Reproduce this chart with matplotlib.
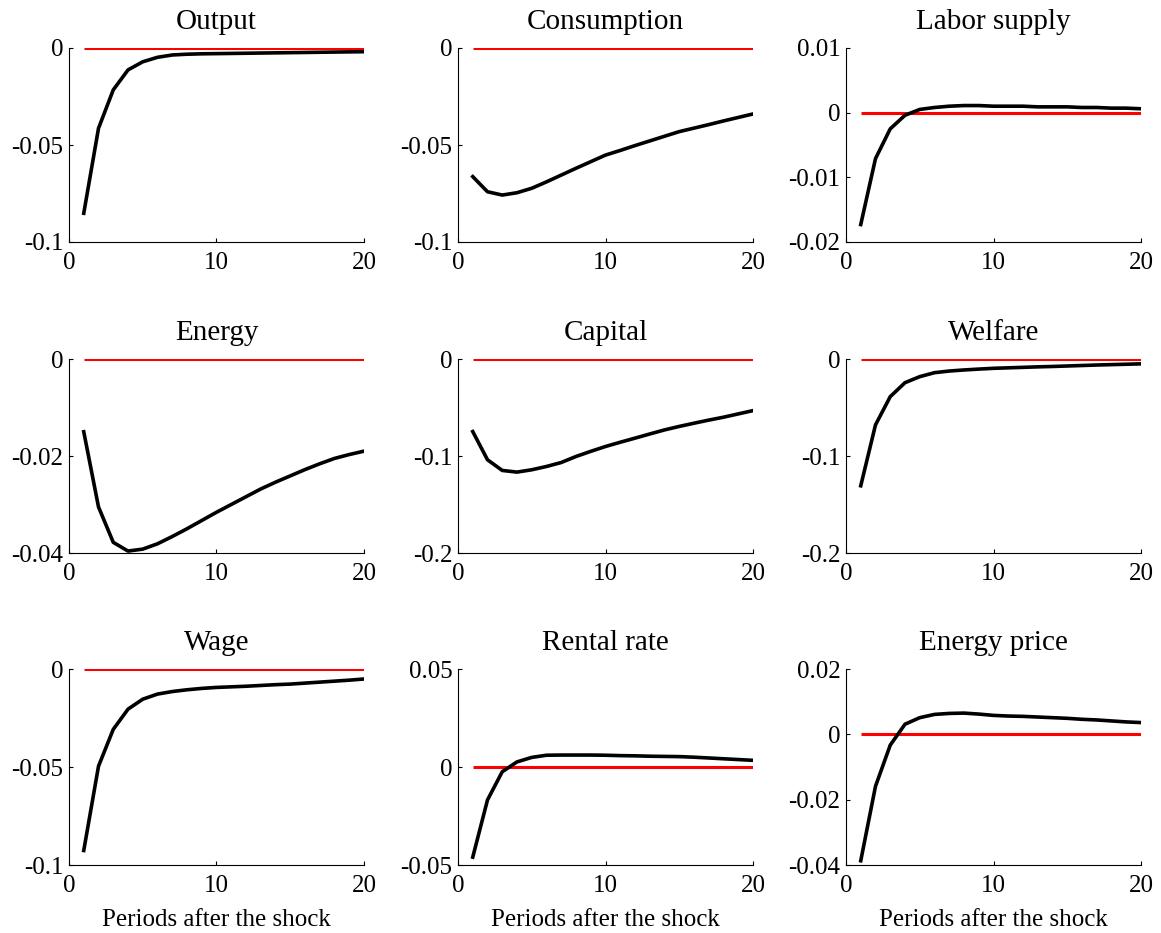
import matplotlib
matplotlib.use("Agg")
import matplotlib.pyplot as plt
import numpy as np

plt.rcParams['font.family'] = ['Liberation Serif', 'DejaVu Serif']
plt.rcParams['axes.unicode_minus'] = False

periods = list(range(1, 21))

titles = ["Output", "Consumption", "Labor supply",
          "Energy", "Capital", "Welfare",
          "Wage", "Rental rate", "Energy price"]

output = [-0.0852, -0.0414, -0.0216, -0.0113, -0.0071, -0.0048, -0.0036, -0.0032, -0.0030, -0.0029,
          -0.0028, -0.0027, -0.0026, -0.0025, -0.0024, -0.0023, -0.0022, -0.0021, -0.0020, -0.0019]
consumption = [-0.0663, -0.0741, -0.0758, -0.0746, -0.0723, -0.0690, -0.0655, -0.0620, -0.0586, -0.0552,
               -0.0528, -0.0503, -0.0479, -0.0455, -0.0431, -0.0413, -0.0395, -0.0376, -0.0358, -0.0340]
labor = [-0.0173, -0.0071, -0.0025, -0.0004, 0.0005, 0.0008, 0.0010, 0.0011, 0.0011, 0.0010,
         0.0010, 0.0010, 0.0009, 0.0009, 0.0009, 0.0008, 0.0008, 0.0007, 0.0007, 0.0006]
energy = [-0.0150, -0.0305, -0.0378, -0.0396, -0.0392, -0.0381, -0.0366, -0.0350, -0.0333, -0.0316,
          -0.0300, -0.0284, -0.0268, -0.0254, -0.0241, -0.0228, -0.0216, -0.0205, -0.0197, -0.0190]
capital = [-0.0748, -0.1039, -0.1149, -0.1166, -0.1142, -0.1108, -0.1067, -0.1005, -0.0952, -0.0902,
           -0.0858, -0.0816, -0.0773, -0.0731, -0.0695, -0.0662, -0.0630, -0.0600, -0.0566, -0.0532]
welfare = [-0.1307, -0.0679, -0.0388, -0.0244, -0.0182, -0.0141, -0.0124, -0.0113, -0.0104, -0.0096,
           -0.0091, -0.0086, -0.0081, -0.0077, -0.0072, -0.0067, -0.0062, -0.0058, -0.0054, -0.0050]
wage = [-0.0926, -0.0496, -0.0308, -0.0205, -0.0154, -0.0128, -0.0115, -0.0106, -0.0099, -0.0094,
        -0.0091, -0.0088, -0.0084, -0.0080, -0.0077, -0.0072, -0.0067, -0.0062, -0.0057, -0.0051]
rental = [-0.0460, -0.0168, -0.0024, 0.0026, 0.0049, 0.0060, 0.0061, 0.0061, 0.0061, 0.0060,
          0.0058, 0.0057, 0.0055, 0.0054, 0.0053, 0.0050, 0.0046, 0.0042, 0.0038, 0.0034]
energy_price = [-0.0387, -0.0159, -0.0033, 0.0031, 0.0051, 0.0061, 0.0064, 0.0065, 0.0062, 0.0058,
                0.0056, 0.0055, 0.0053, 0.0051, 0.0049, 0.0046, 0.0044, 0.0041, 0.0038, 0.0036]

series = [output, consumption, labor, energy, capital, welfare, wage, rental, energy_price]

ylims = [(-0.1, 0), (-0.1, 0), (-0.02, 0.01),
         (-0.04, 0), (-0.2, 0), (-0.2, 0),
         (-0.1, 0), (-0.05, 0.05), (-0.04, 0.02)]
yticks = [[-0.1, -0.05, 0], [-0.1, -0.05, 0], [-0.02, -0.01, 0, 0.01],
          [-0.04, -0.02, 0], [-0.2, -0.1, 0], [-0.2, -0.1, 0],
          [-0.1, -0.05, 0], [-0.05, 0, 0.05], [-0.04, -0.02, 0, 0.02]]
yticklabels = [["-0.1", "-0.05", "0"], ["-0.1", "-0.05", "0"], ["-0.02", "-0.01", "0", "0.01"],
               ["-0.04", "-0.02", "0"], ["-0.2", "-0.1", "0"], ["-0.2", "-0.1", "0"],
               ["-0.1", "-0.05", "0"], ["-0.05", "0", "0.05"], ["-0.04", "-0.02", "0", "0.02"]]
xticks = [0, 10, 20]
xlabel = "Periods after the shock"

W, H = 1161, 933
fig = plt.figure(figsize=(W / 100, H / 100), dpi=100)

col_left = [69, 458, 846]
col_width = 295
row_top = [48, 359, 669]
row_height = [194, 194, 196]

for i in range(9):
    r, c = divmod(i, 3)
    left = col_left[c] / W
    bottom = 1 - (row_top[r] + row_height[r]) / H
    ax = fig.add_axes([left, bottom, col_width / W, row_height[r] / H])
    ax.plot(periods, np.zeros(len(periods)), color='red', lw=2.2, solid_capstyle='butt')
    ax.plot(periods, series[i], color='black', lw=2.6)
    ax.set_xlim(0, 20)
    ax.set_ylim(*ylims[i])
    ax.set_xticks(xticks)
    ax.set_xticklabels([str(t) for t in xticks])
    ax.set_yticks(yticks[i])
    ax.set_yticklabels(yticklabels[i])
    ax.spines['top'].set_visible(False)
    ax.spines['right'].set_visible(False)
    ax.spines['left'].set_linewidth(0.8)
    ax.spines['bottom'].set_linewidth(0.8)
    ax.tick_params(direction='in', length=3, width=0.8, labelsize=18)
    ax.tick_params(axis='x', pad=7)
    ax.tick_params(axis='y', pad=4)
    ax.set_title(titles[i], fontsize=21, pad=14)
    if r == 2:
        ax.set_xlabel(xlabel, fontsize=18, labelpad=9)

fig.savefig("out.png", dpi=100)
